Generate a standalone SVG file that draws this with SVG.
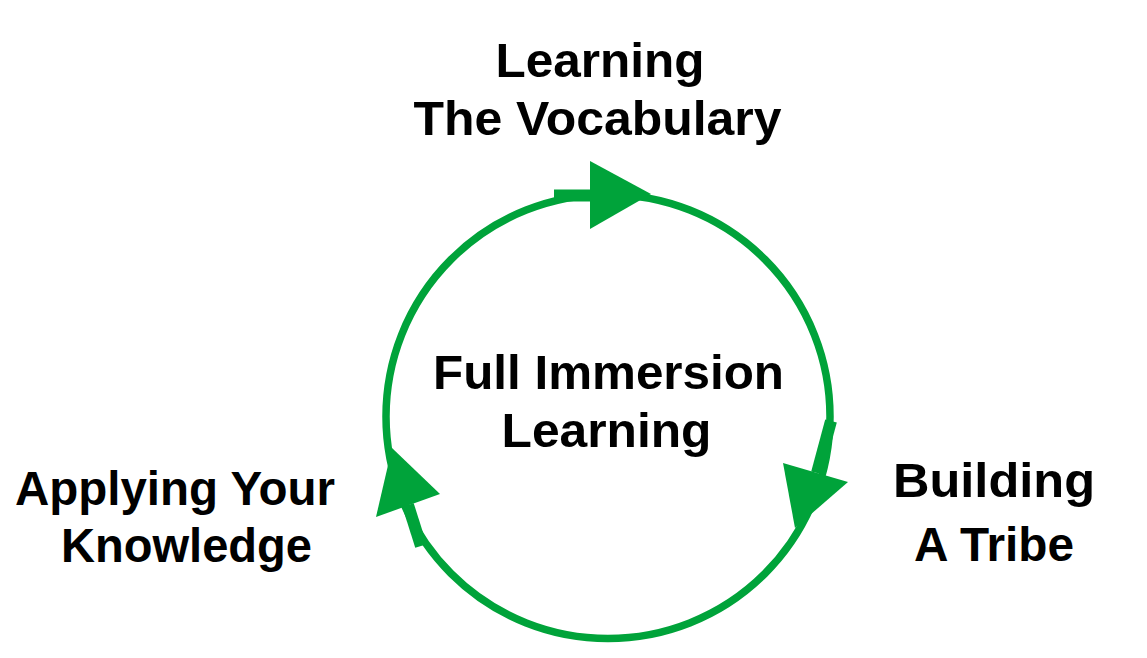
<svg xmlns="http://www.w3.org/2000/svg" width="1147" height="658" viewBox="0 0 1147 658">
<style>
  .lbl { font-family: "Liberation Sans", Arial, sans-serif; font-weight: bold; font-size: 48px; fill: #000; text-anchor: middle; }
  .ring { fill: none; stroke: #00A33A; stroke-width: 7.5; }
  .shaft { stroke: #00A33A; stroke-width: 12; fill: none; }
  .head { fill: #00A33A; stroke: none; }
</style>
<rect width="1147" height="658" fill="#fff"/>
<g id="connectors">
  <circle class="ring" cx="608" cy="416.5" r="222"/>
  <g id="arrow-top">
    <line class="shaft" x1="554" y1="195.5" x2="591" y2="195.5"/>
    <polygon class="head" points="590,161 590,229 651,194"/>
  </g>
  <g id="arrow-right">
    <line class="shaft" x1="831" y1="421" x2="817" y2="473"/>
    <polygon class="head" points="783,463 848,482 795,528"/>
  </g>
  <g id="arrow-left">
    <line class="shaft" x1="408" y1="505" x2="421" y2="546"/>
    <polygon class="head" points="392,448 440,494 376,517"/>
  </g>
</g>
<g id="node-center">
  <text class="lbl" x="608.5" y="389" textLength="351" lengthAdjust="spacingAndGlyphs">Full Immersion</text>
  <text class="lbl" x="606.5" y="447" textLength="210" lengthAdjust="spacingAndGlyphs">Learning</text>
</g>
<g id="node-top">
  <text class="lbl" x="600" y="77" textLength="209" lengthAdjust="spacingAndGlyphs">Learning</text>
  <text class="lbl" x="597.5" y="135" textLength="368" lengthAdjust="spacingAndGlyphs">The Vocabulary</text>
</g>
<g id="node-right">
  <text class="lbl" x="994" y="497" textLength="202" lengthAdjust="spacingAndGlyphs">Building</text>
  <text class="lbl" x="994" y="561" textLength="160" lengthAdjust="spacingAndGlyphs">A Tribe</text>
</g>
<g id="node-left">
  <text class="lbl" x="175" y="505" textLength="320" lengthAdjust="spacingAndGlyphs">Applying Your</text>
  <text class="lbl" x="186.5" y="562" textLength="251" lengthAdjust="spacingAndGlyphs">Knowledge</text>
</g>
</svg>
